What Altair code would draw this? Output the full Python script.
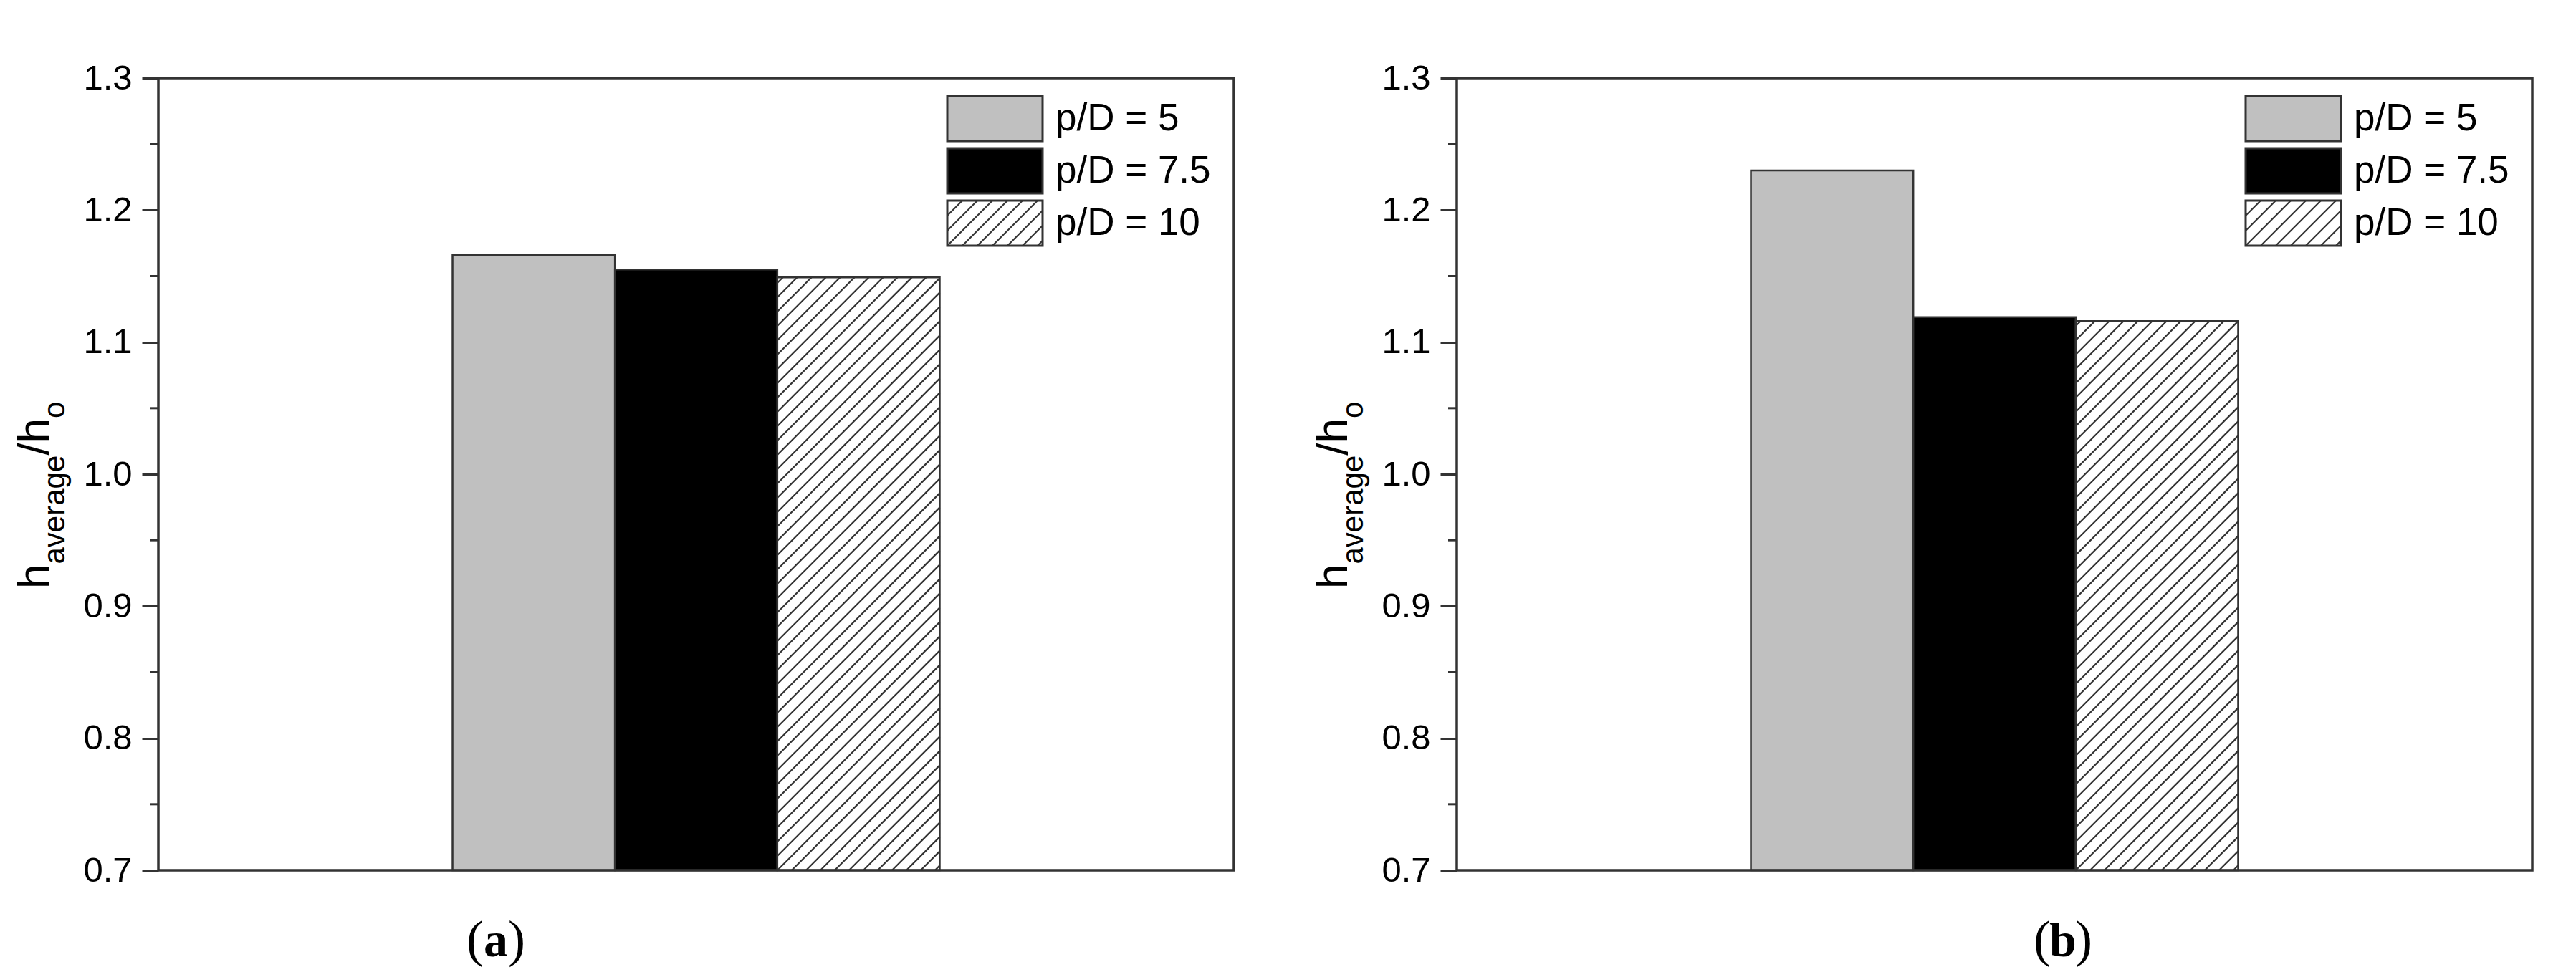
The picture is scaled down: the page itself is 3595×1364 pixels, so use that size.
import altair as alt
import pandas as pd

# ---------------- data ----------------
categories = ["p/D = 5", "p/D = 7.5", "p/D = 10"]
values_a = [1.166, 1.155, 1.149]
values_b = [1.230, 1.119, 1.116]
y_ticks = [0.7, 0.8, 0.9, 1.0, 1.1, 1.2, 1.3]
y_minor = [0.75, 0.85, 0.95, 1.05, 1.15, 1.25]
fill_colors = ["#c0c0c0", "#000000", "#ffffff"]
panel_labels = ["a", "b"]

# ---------------- layout / style ----------------
W, H = 1501, 1106
Y0, Y1 = 0.7, 1.3
PX_PER_Y = H / (Y1 - Y0)
BAR_W = 0.151
GROUP_X0 = 0.2735
HATCH_STEP = 20
EDGE = "#333333"
SANS = "Liberation Sans"
SERIF = "Liberation Serif"

fill_scale = alt.Scale(domain=categories, range=fill_colors)
x_scale = alt.Scale(domain=[0, 1], nice=False, zero=False)
y_scale = alt.Scale(domain=[Y0, Y1], nice=False, zero=False)


def hatch_segments(w, h, step):
    """45-degree hatch segments inside a w x h box, (u, t) with t measured upward."""
    segs = []
    k = -int(h // step) - 1
    while k * step < w:
        c = k * step
        t0 = max(0.0, -c)
        t1 = min(h, w - c)
        if t1 > t0:
            segs.append((t0 + c, t0, t1 + c, t1))
        k += 1
    return segs


def panel(values, label, caption_x):
    x0s = [GROUP_X0 + i * BAR_W for i in range(len(categories))]
    bars = pd.DataFrame({
        "cat": categories,
        "v": values,
        "x0": x0s,
        "x1": [x + BAR_W for x in x0s],
    })

    bar_layer = alt.Chart(bars).mark_rect(stroke=EDGE, strokeWidth=2.5).encode(
        x=alt.X("x0:Q", scale=x_scale, axis=None),
        x2="x1:Q",
        y=alt.Y("v:Q", scale=y_scale, axis=alt.Axis(
            values=y_ticks, format=".1f", title=None, grid=False, domain=False,
            labelFont=SANS, labelFontSize=49, labelColor="#000000", labelPadding=14,
            tickSize=23, tickWidth=3, tickColor=EDGE)),
        y2=alt.datum(Y0),
        fill=alt.Fill("cat:N", scale=fill_scale, legend=None),
    )

    # hatch of the third bar, computed from its value
    hx0 = x0s[2]
    hv = values[2]
    segs = hatch_segments(BAR_W * W, (hv - Y0) * PX_PER_Y, HATCH_STEP)
    hatch = pd.DataFrame({
        "xa": [hx0 + s[0] / W for s in segs],
        "ya": [Y0 + s[1] / PX_PER_Y for s in segs],
        "xb": [hx0 + s[2] / W for s in segs],
        "yb": [Y0 + s[3] / PX_PER_Y for s in segs],
    })
    hatch_layer = alt.Chart(hatch).mark_rule(color=EDGE, strokeWidth=2.2).encode(
        x="xa:Q", x2="xb:Q", y="ya:Q", y2="yb:Q")

    minor = pd.DataFrame({"m": y_minor})
    minor_layer = alt.Chart(minor).mark_rule(color=EDGE, strokeWidth=3).encode(
        y="m:Q", x=alt.value(-12), x2=alt.value(0))

    # plot frame
    frame = alt.Chart(alt.Data(values=[{"k": 1}])).mark_rect(
        fill=None, stroke=EDGE, strokeWidth=3.5
    ).encode(x=alt.value(0), x2=alt.value(W), y=alt.value(0), y2=alt.value(H))

    # legend (inside plot, top right)
    lx0, lx1 = 1101, 1234
    leg = pd.DataFrame({
        "cat": categories,
        "ly0": [25 + 73 * i for i in range(3)],
        "ly1": [88 + 73 * i for i in range(3)],
        "lyc": [56.5 + 73 * i for i in range(3)],
    })
    leg_box = alt.Chart(leg).mark_rect(stroke=EDGE, strokeWidth=3).encode(
        x=alt.value(lx0), x2=alt.value(lx1),
        y=alt.Y("ly0:Q", scale=None), y2="ly1:Q",
        fill=alt.Fill("cat:N", scale=fill_scale, legend=None),
    )
    leg_text = alt.Chart(leg).mark_text(
        align="left", baseline="middle", font=SANS, fontSize=53, color="#000000"
    ).encode(x=alt.value(1252), y=alt.Y("lyc:Q", scale=None), text="cat:N")

    ly0, ly1 = 25 + 73 * 2, 88 + 73 * 2
    lsegs = hatch_segments(lx1 - lx0, ly1 - ly0, 21)
    lh = pd.DataFrame({
        "px0": [lx0 + s[0] for s in lsegs],
        "py0": [ly1 - s[1] for s in lsegs],
        "px1": [lx0 + s[2] for s in lsegs],
        "py1": [ly1 - s[3] for s in lsegs],
    })
    leg_hatch = alt.Chart(lh).mark_rule(color=EDGE, strokeWidth=2.2).encode(
        x=alt.X("px0:Q", scale=None), x2="px1:Q",
        y=alt.Y("py0:Q", scale=None), y2="py1:Q")

    # y-axis title h_average / h_o
    title = pd.DataFrame({
        "t": ["h", "average", "/h", "o"],
        "tx": [-153, -131, -153, -131],
        "ty": [713, 678.5, 526.8, 475.1],
        "fs": [62, 42, 62, 42],
    })
    title_layer = alt.Chart(title).mark_text(
        angle=270, align="left", baseline="alphabetic", font=SANS, color="#000000"
    ).encode(
        x=alt.X("tx:Q", scale=None), y=alt.Y("ty:Q", scale=None),
        text="t:N", size=alt.Size("fs:Q", scale=None, legend=None))

    # caption (a) / (b)
    one = alt.Data(values=[{"k": 1}])
    cap_y = 1226
    cap_mid = alt.Chart(one).mark_text(
        text=label, font=SERIF, fontSize=68, fontWeight="bold", align="center",
        baseline="alphabetic", color="#000000"
    ).encode(x=alt.value(caption_x), y=alt.value(cap_y))
    cap_l = alt.Chart(one).mark_text(
        text="(", font=SERIF, fontSize=72, align="right", baseline="alphabetic",
        color="#000000"
    ).encode(x=alt.value(caption_x - 17), y=alt.value(cap_y))
    cap_r = alt.Chart(one).mark_text(
        text=")", font=SERIF, fontSize=72, align="left", baseline="alphabetic",
        color="#000000"
    ).encode(x=alt.value(caption_x + 17), y=alt.value(cap_y))

    return alt.layer(
        bar_layer, hatch_layer, minor_layer, leg_box, leg_hatch, leg_text,
        title_layer, cap_l, cap_mid, cap_r, frame
    ).properties(width=W, height=H)


left = panel(values_a, panel_labels[0], 471)
right = panel(values_b, panel_labels[1], 846)

chart = alt.hconcat(left, right, spacing=106).properties(
    padding={"left": 10, "top": 77, "right": 5, "bottom": 5},
    background="white",
).configure_view(stroke=None)

chart.save("out.html", embed_options={"renderer": "svg", "actions": False})
